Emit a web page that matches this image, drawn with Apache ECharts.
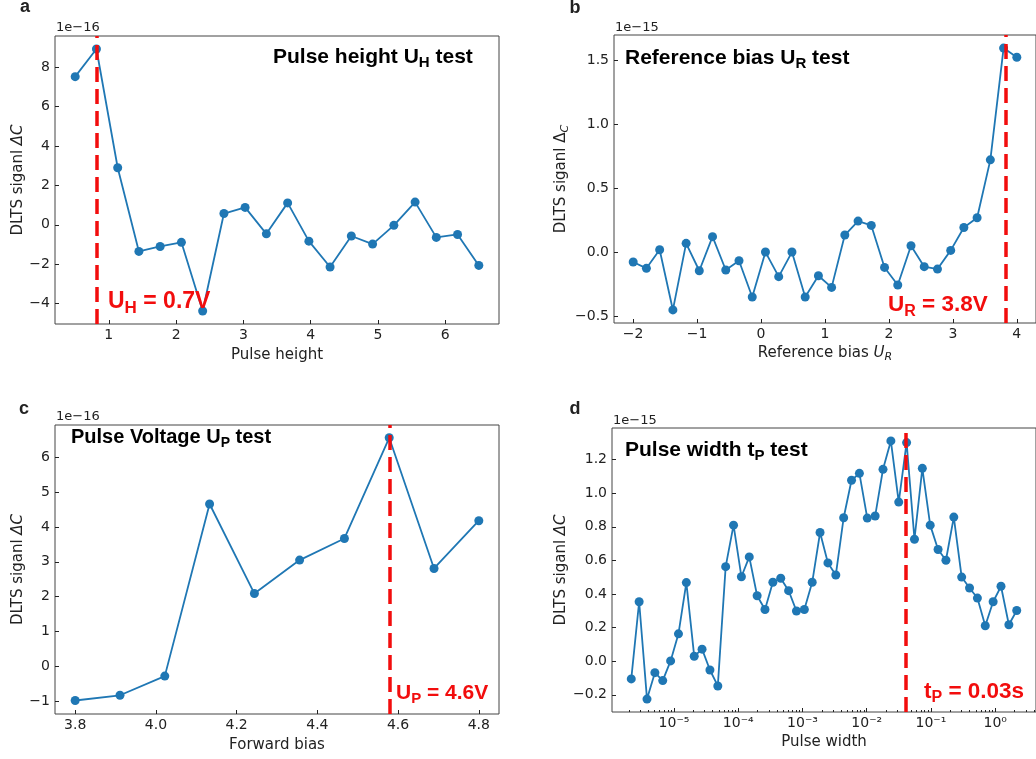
<!DOCTYPE html>
<html><head><meta charset="utf-8">
<script src="https://cdn.jsdelivr.net/npm/echarts@6/dist/echarts.min.js"></script>
<style>html,body{margin:0;padding:0;background:#fff}#c{width:1036px;height:759px}</style>
</head><body><div id="c"></div>
<script>
// ---------- Panel a : pulse height test (signal in units of 1e-16) ----------
const aPulseHeight = [0.5, 0.816, 1.132, 1.447, 1.763, 2.079, 2.395, 2.711, 3.026, 3.342, 3.658, 3.974, 4.289, 4.605, 4.921, 5.237, 5.553, 5.868, 6.184, 6.5];
const aSignal = [7.51, 8.91, 2.89, -1.35, -1.10, -0.89, -4.37, 0.57, 0.88, -0.46, 1.11, -0.83, -2.14, -0.57, -0.98, -0.03, 1.15, -0.64, -0.49, -2.06];
const aMarker = 0.82;
const aXTicks = [1, 2, 3, 4, 5, 6];
const aYTicks = [-4, -2, 0, 2, 4, 6, 8];

// ---------- Panel b : reference bias test (signal in units of 1e-15) ----------
const bRefBias = [-2, -1.793, -1.586, -1.379, -1.172, -0.966, -0.759, -0.552, -0.345, -0.138, 0.069, 0.276, 0.483, 0.690, 0.897, 1.103, 1.310, 1.517, 1.724, 1.931, 2.138, 2.345, 2.552, 2.759, 2.966, 3.172, 3.379, 3.586, 3.793, 4.0];
const bSignal = [-0.078, -0.127, 0.018, -0.452, 0.068, -0.146, 0.120, -0.140, -0.068, -0.351, 0.000, -0.192, 0.000, -0.351, -0.185, -0.276, 0.133, 0.242, 0.208, -0.120, -0.257, 0.049, -0.114, -0.133, 0.013, 0.192, 0.268, 0.720, 1.593, 1.521];
const bMarker = 3.82;
const bXTicks = [-2, -1, 0, 1, 2, 3, 4];
const bYTicks = [-0.5, 0, 0.5, 1.0, 1.5];

// ---------- Panel c : pulse voltage test (signal in units of 1e-16) ----------
const cForwardBias = [3.8, 3.911, 4.022, 4.133, 4.244, 4.356, 4.467, 4.578, 4.689, 4.8];
const cSignal = [-0.98, -0.83, -0.28, 4.66, 2.09, 3.05, 3.67, 6.56, 2.81, 4.18];
const cMarker = 4.58;
const cXTicks = [3.8, 4.0, 4.2, 4.4, 4.6, 4.8];
const cYTicks = [-1, 0, 1, 2, 3, 4, 5, 6];

// ---------- Panel d : pulse width test (signal in units of 1e-15) ----------
const dPulseWidth = [2.163e-6, 2.867e-6, 3.801e-6, 5.039e-6, 6.680e-6, 8.857e-6, 1.174e-5, 1.557e-5, 2.064e-5, 2.735e-5,
  3.627e-5, 4.808e-5, 6.374e-5, 8.451e-5, 1.120e-4, 1.485e-4, 1.969e-4, 2.610e-4, 3.460e-4, 4.587e-4,
  6.081e-4, 8.062e-4, 1.069e-3, 1.417e-3, 1.878e-3, 2.490e-3, 3.301e-3, 4.376e-3, 5.801e-3, 7.691e-3,
  1.020e-2, 1.352e-2, 1.792e-2, 2.376e-2, 3.150e-2, 4.176e-2, 5.536e-2, 7.339e-2, 9.730e-2, 0.1290,
  0.1710, 0.2267, 0.3006, 0.3985, 0.5283, 0.7004, 0.9284, 1.231, 1.632, 2.163];
const dSignal = [-0.105, 0.354, -0.225, -0.068, -0.115, 0.002, 0.163, 0.468, 0.030, 0.072,
  -0.052, -0.147, 0.563, 0.810, 0.503, 0.621, 0.390, 0.308, 0.470, 0.494,
  0.420, 0.299, 0.308, 0.470, 0.766, 0.585, 0.513, 0.854, 1.077, 1.118,
  0.852, 0.864, 1.142, 1.311, 0.947, 1.301, 0.726, 1.148, 0.810, 0.665,
  0.601, 0.858, 0.501, 0.436, 0.376, 0.211, 0.354, 0.446, 0.217, 0.302];
const dMarker = 0.04;
const dXTicks = [1e-5, 1e-4, 1e-3, 1e-2, 1e-1, 1e0];
const dXMinorTicks = [2e-6,3e-6,4e-6,5e-6,6e-6,7e-6,8e-6,9e-6, 2e-5,3e-5,4e-5,5e-5,6e-5,7e-5,8e-5,9e-5,
  2e-4,3e-4,4e-4,5e-4,6e-4,7e-4,8e-4,9e-4, 2e-3,3e-3,4e-3,5e-3,6e-3,7e-3,8e-3,9e-3,
  2e-2,3e-2,4e-2,5e-2,6e-2,7e-2,8e-2,9e-2, 0.2,0.3,0.4,0.5,0.6,0.7,0.8,0.9, 2,3,4];
const dYTicks = [-0.2, 0, 0.2, 0.4, 0.6, 0.8, 1.0, 1.2];

// ---------- styling ----------
const FONT = '"DejaVu Sans", sans-serif';
const BOLD = '"Liberation Sans", Arial, sans-serif';
const BLUE = '#1f77b4';
const RED = '#f20d0d';
const INK = '#222';
const FRAME = '#444';

const minus = s => String(s).replace('-', '\u2212');
const fmtInt = v => minus(Math.round(v));
const fmt1 = v => { const r = Math.round(v * 10) / 10; return minus((r === 0 ? 0 : r).toFixed(1)); };
const SUP = {'-': '\u207B', '0': '\u2070', '1': '\u00B9', '2': '\u00B2', '3': '\u00B3', '4': '\u2074', '5': '\u2075', '6': '\u2076', '7': '\u2077', '8': '\u2078', '9': '\u2079'};
const fmtPow = v => '10' + String(Math.round(Math.log10(v))).split('').map(c => SUP[c]).join('');

const grids = [
  {left: 55, top: 36, width: 444, height: 288},
  {left: 614, top: 35, width: 428, height: 288},
  {left: 55, top: 425, width: 444, height: 289},
  {left: 612, top: 428, width: 436, height: 284}
].map(g => Object.assign({show: true, borderColor: FRAME, borderWidth: 1, backgroundColor: 'transparent', containLabel: false}, g));

function axisBase(gridIndex, type, min, max, ticks, fmt, isY) {
  return {
    type: type, gridIndex: gridIndex, min: min, max: max,
    position: isY ? 'left' : 'bottom',
    axisLine: {show: false, onZero: false},
    splitLine: {show: false},
    axisTick: {show: true, inside: true, length: 4, customValues: ticks, lineStyle: {color: INK, width: 1}},
    axisLabel: {show: true, customValues: ticks, formatter: fmt, color: INK, fontFamily: FONT, fontSize: 14, margin: isY ? 5 : 4},
    nameTextStyle: {color: INK, fontFamily: FONT, fontSize: 15}
  };
}

const nameRich15 = {
  m: {fontFamily: FONT, fontSize: 15, color: INK, lineHeight: 20, verticalAlign: 'middle'},
  i: {fontFamily: FONT, fontSize: 15, fontStyle: 'italic', color: INK, lineHeight: 20, verticalAlign: 'middle'},
  si: {fontFamily: FONT, fontSize: 11, fontStyle: 'italic', color: INK, lineHeight: 11, verticalAlign: 'bottom'}
};

function withName(ax, name, gap, rotate) {
  ax.name = name; ax.nameLocation = 'middle'; ax.nameGap = gap;
  if (rotate) ax.nameRotate = 90;
  ax.nameTextStyle = {color: INK, fontFamily: FONT, fontSize: 15, rich: nameRich15};
  return ax;
}

const xAxes = [
  withName(axisBase(0, 'value', 0.2, 6.8, aXTicks, fmtInt), '{m|Pulse height}', 21),
  withName(axisBase(1, 'value', -2.3, 4.3, bXTicks, fmtInt), '{m|Reference bias }{i|U}{si|R}', 20),
  withName(axisBase(2, 'value', 3.75, 4.85, cXTicks, fmt1), '{m|Forward bias}', 21),
  withName(axisBase(3, 'log', Math.pow(10, -5.965), Math.pow(10, 0.635), dXTicks, fmtPow), '{m|Pulse width}', 20),
  {type: 'log', gridIndex: 3, position: 'bottom', min: Math.pow(10, -5.965), max: Math.pow(10, 0.635),
   axisLine: {show: false, onZero: false}, splitLine: {show: false}, axisLabel: {show: false},
   axisTick: {show: true, inside: true, length: 2, customValues: dXMinorTicks, lineStyle: {color: INK, width: 1}}}
];
const yAxes = [
  withName(axisBase(0, 'value', -5.03, 9.57, aYTicks, fmtInt, true), '{m|DLTS siganl }{i|\u0394C}', 27, true),
  withName(axisBase(1, 'value', -0.554, 1.695, bYTicks, fmt1, true), '{m|DLTS siganl \u0394}{si|C}', 33, true),
  withName(axisBase(2, 'value', -1.367, 6.927, cYTicks, fmtInt, true), '{m|DLTS siganl }{i|\u0394C}', 27, true),
  withName(axisBase(3, 'value', -0.302, 1.388, dYTicks, fmt1, true), '{m|DLTS siganl }{i|\u0394C}', 37, true)
];

function lineSeries(xi, yi, xs, ys, marker) {
  return {
    type: 'line', xAxisIndex: xi, yAxisIndex: yi,
    data: xs.map((x, i) => [x, ys[i]]),
    symbol: 'circle', symbolSize: 9, showSymbol: true,
    lineStyle: {color: BLUE, width: 1.8}, itemStyle: {color: BLUE},
    animation: false, silent: true,
    markLine: {
      silent: true, symbol: ['none', 'none'], label: {show: false}, animation: false,
      lineStyle: {color: RED, width: 3.5, type: [15, 7], opacity: 1},
      data: [{xAxis: marker}]
    }
  };
}

function plain(x, y, text, font, align) {
  return {type: 'text', x: x, y: y, z: 100, silent: true,
    style: {text: text, font: font, fill: INK, align: align || 'left', verticalAlign: 'middle'}};
}
function subLabel(x, y, text, F, color) {
  const f = Math.round(F * 0.72);
  const L = Math.round(f + 0.57 * F);
  return {type: 'text', x: x, y: y, z: 100, silent: true,
    style: {text: text, align: 'left', verticalAlign: 'middle', fill: color,
      rich: {
        m: {fontFamily: BOLD, fontWeight: 'bold', fontSize: F, lineHeight: L, verticalAlign: 'middle', fill: color, color: color},
        s: {fontFamily: BOLD, fontWeight: 'bold', fontSize: f, lineHeight: f, verticalAlign: 'bottom', fill: color, color: color}
      }}};
}

const graphics = [
  plain(25, 7, 'a', 'bold 18px ' + BOLD, 'center'),
  plain(575, 8, 'b', 'bold 18px ' + BOLD, 'center'),
  plain(24, 409, 'c', 'bold 18px ' + BOLD, 'center'),
  plain(575, 409, 'd', 'bold 18px ' + BOLD, 'center'),
  plain(56, 27.5, '1e\u221216', '13px ' + FONT),
  plain(615, 27.5, '1e\u221215', '13px ' + FONT),
  plain(56, 416.5, '1e\u221216', '13px ' + FONT),
  plain(613, 420.5, '1e\u221215', '13px ' + FONT),
  subLabel(273, 57, '{m|Pulse height U}{s|H}{m| test}', 21, '#000'),
  subLabel(625, 58, '{m|Reference bias U}{s|R}{m| test}', 21, '#000'),
  subLabel(71, 437.5, '{m|Pulse Voltage U}{s|P}{m| test}', 20, '#000'),
  subLabel(625, 450, '{m|Pulse width t}{s|P}{m| test}', 21, '#000'),
  subLabel(108, 301.5, '{m|U}{s|H}{m| = 0.7V}', 23, RED),
  subLabel(888, 305, '{m|U}{s|R}{m| = 3.8V}', 22.5, RED),
  subLabel(396, 693, '{m|U}{s|P}{m| = 4.6V}', 21, RED),
  subLabel(924, 691.5, '{m|t}{s|P}{m| = 0.03s}', 22.5, RED)
];

const chart = echarts.init(document.getElementById('c'), null, {renderer: 'canvas'});
chart.setOption({
  animation: false,
  backgroundColor: '#fff',
  grid: grids,
  xAxis: xAxes,
  yAxis: yAxes,
  series: [
    lineSeries(0, 0, aPulseHeight, aSignal, aMarker),
    lineSeries(1, 1, bRefBias, bSignal, bMarker),
    lineSeries(2, 2, cForwardBias, cSignal, cMarker),
    lineSeries(3, 3, dPulseWidth, dSignal, dMarker)
  ],
  graphic: graphics
});
</script></body></html>
